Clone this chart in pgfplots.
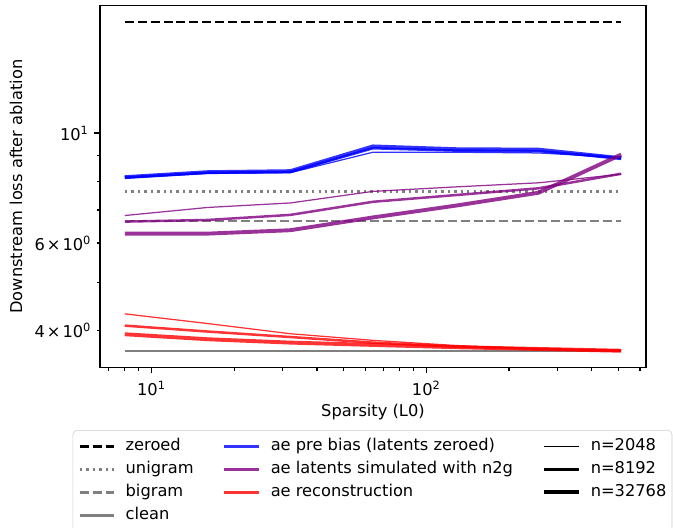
\documentclass[border=0pt]{standalone}
\usepackage{pgfplots}
\pgfplotsset{compat=1.18}
\usepackage{fontspec}
\setmainfont{DejaVu Sans}

\definecolor{mplpurple}{HTML}{800080}
\definecolor{mplgray}{HTML}{808080}

\tikzset{
  nthin/.style={line width=0.9bp},
  nmid/.style={line width=1.8bp},
  nthick/.style={line width=2.8bp},
  aeblue/.style={draw=blue, draw opacity=0.8},
  aepurple/.style={draw=mplpurple, draw opacity=0.8},
  aered/.style={draw=red, draw opacity=0.8},
  mpldash/.style={dash pattern=on 6.5bp off 2.8bp},
  mpldot/.style={dash pattern=on 1.75bp off 2.9bp},
}

\begin{document}
\fontsize{11.7bp}{14bp}\selectfont
\begin{tikzpicture}
\begin{axis}[
    scale only axis,
    width=393.1bp, height=260.4bp,
    xmode=log, ymode=log,
    xmin=6.5, xmax=630,
    ymin=3.37, ymax=18.07,
    xtick={10,100},
    xticklabels={10\textsuperscript{1},10\textsuperscript{2}},
    xticklabel style={yshift=-2bp},
    minor xtick={7,8,9,20,30,40,50,60,70,80,90,200,300,400,500,600},
    ytick={10},
    yticklabels={10\textsuperscript{1}},
    minor ytick={5,7,8,9},
    extra y ticks={4,6},
    extra y tick labels={4\kern0.12em×\kern0.12em10\textsuperscript{0},6\kern0.12em×\kern0.12em10\textsuperscript{0}},
    extra y tick style={major tick length=2.3bp},
    tick align=outside,
    tick pos=left,
    major tick length=4.1bp,
    minor tick length=2.3bp,
    every tick/.style={black, line width=0.9bp},
    axis line style={line width=0.9bp},
    xlabel={Sparsity (L0)},
    ylabel={Downstream loss after ablation},
    every axis x label/.style={at={(axis description cs:0.5,-0.1236)}, anchor=center},
    every axis y label/.style={at={(axis description cs:-0.1538,0.5)}, anchor=center, rotate=90},
    legend columns=3,
    legend cell align=left,
    legend image code/.code={\draw[#1] (0bp,0bp) -- (24.8bp,0bp);},
    legend style={
        at={(axis description cs:-0.050,-0.1734)}, anchor=north west,
        draw=black!20, rounded corners=3bp,
        inner xsep=4bp, inner ysep=5.7bp,
        nodes={inner sep=0pt, text height=9bp, text depth=2.6bp},
        row sep=5bp,
        /tikz/every odd column/.append style={column sep=7.4bp},
        /tikz/every even column/.append style={column sep=21bp},
    },
]

% baselines
\addplot[forget plot, black, line width=1.75bp, mpldash] coordinates {(8,16.74) (512,16.74)};
\addplot[forget plot, mplgray, line width=1.75bp, mpldot] coordinates {(8,7.62) (512,7.62)};
\addplot[forget plot, mplgray, line width=1.75bp, mpldash] coordinates {(8,6.65) (512,6.65)};
\addplot[forget plot, mplgray, line width=1.75bp] coordinates {(8,3.64) (512,3.64)};

% n=2048
\addplot[forget plot, aeblue, nthin] coordinates {(8,8.12) (16,8.30) (32,8.32) (64,9.15) (128,9.15) (256,9.12) (512,8.93)};
\addplot[forget plot, aepurple, nthin] coordinates {(8,6.82) (16,7.08) (32,7.23) (64,7.63) (128,7.79) (256,7.94) (512,8.26)};
\addplot[forget plot, aered, nthin] coordinates {(8,4.32) (16,4.13) (32,3.94) (64,3.82) (128,3.73) (256,3.67) (512,3.65)};

% n=8192
\addplot[forget plot, aeblue, nmid] coordinates {(8,8.14) (16,8.32) (32,8.35) (64,9.32) (128,9.22) (256,9.20) (512,8.90)};
\addplot[forget plot, aepurple, nmid] coordinates {(8,6.63) (16,6.68) (32,6.84) (64,7.27) (128,7.50) (256,7.74) (512,8.28)};
\addplot[forget plot, aered, nmid] coordinates {(8,4.09) (16,3.98) (32,3.88) (64,3.78) (128,3.71) (256,3.67) (512,3.64)};

% n=32768
\addplot[forget plot, aeblue, nthick] coordinates {(8,8.15) (16,8.34) (32,8.38) (64,9.40) (128,9.28) (256,9.26) (512,8.90)};
\addplot[forget plot, aepurple, nthick] coordinates {(8,6.27) (16,6.27) (32,6.37) (64,6.76) (128,7.14) (256,7.58) (512,9.05)};
\addplot[forget plot, aered, nthick] coordinates {(8,3.93) (16,3.84) (32,3.78) (64,3.74) (128,3.70) (256,3.67) (512,3.64)};

% legend, row by row
\addlegendimage{black, line width=1.75bp, mpldash}
\addlegendentry{zeroed}
\addlegendimage{aeblue, line width=2.4bp}
\addlegendentry{ae pre bias (latents zeroed)}
\addlegendimage{black, nthin}
\addlegendentry{n=2048}
\addlegendimage{mplgray, line width=1.75bp, mpldot}
\addlegendentry{unigram}
\addlegendimage{aepurple, line width=2.4bp}
\addlegendentry{ae latents simulated with n2g}
\addlegendimage{black, nmid}
\addlegendentry{n=8192}
\addlegendimage{mplgray, line width=1.75bp, mpldash}
\addlegendentry{bigram}
\addlegendimage{aered, line width=2.4bp}
\addlegendentry{ae reconstruction}
\addlegendimage{black, nthick}
\addlegendentry{n=32768}
\addlegendimage{mplgray, line width=1.75bp}
\addlegendentry{clean}

\end{axis}
\pgfresetboundingbox
\path[use as bounding box] ([shift={(-72bp,-115bp)}]current axis.south west) rectangle ([shift={(19.5bp,4.1bp)}]current axis.north east);
\end{tikzpicture}
\end{document}
